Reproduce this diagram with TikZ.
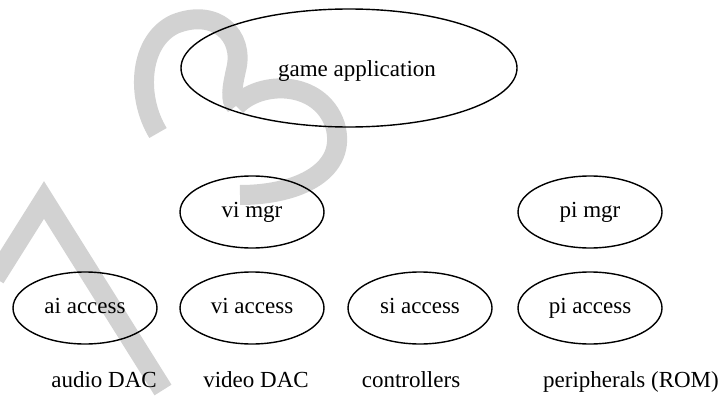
\documentclass[tikz,border=0pt]{standalone}
\usepackage{fontspec}
\setmainfont{Liberation Serif}
\usetikzlibrary{shapes.geometric}
\begin{document}
\begin{tikzpicture}[x=1pt,y=-1pt,
  oval/.style={draw,line width=1.4pt,ellipse,inner sep=0pt,minimum width=144pt,minimum height=72pt,text height=15pt,text depth=5pt},
  txt/.style={font=\fontsize{23}{27}\selectfont},
  lbl/.style={txt,anchor=base},
  wm/.style={draw=gray!35,line width=20pt,line cap=butt}]
\useasboundingbox (0,0) rectangle (723,396);
% watermark strokes
\draw[wm] (158,133) .. controls (135,95) and (140,40) .. (175,24)
  .. controls (215,8) and (245,35) .. (236,70) .. controls (232,88) and (230,100) .. (236,106);
\draw[wm] (236,106) .. controls (260,80) and (320,80) .. (335,125)
  .. controls (348,170) and (300,195) .. (240,195);
\draw[wm] (-5,278) -- (44,200) -- (163,390);
% nodes
\node[oval,minimum width=336pt,minimum height=118pt] (game) at (349,68) {};
\node[lbl] (gametxt) at (357,77) {game application};
\node[oval,txt] (vimgr) at (252,212) {vi mgr};
\node[oval,txt] (pimgr) at (590,212) {pi mgr};
\node[oval,txt] (ai) at (85,308) {ai access};
\node[oval,txt] (vi) at (252,308) {vi access};
\node[oval,txt] (si) at (420,308) {si access};
\node[oval,txt] (pi) at (590,308) {pi access};
\node[lbl] (l1) at (104,387) {audio DAC};
\node[lbl] (l2) at (256,387) {video DAC};
\node[lbl] (l3) at (411,387) {controllers};
\node[lbl] (l4) at (631,387) {peripherals (ROM)};
\end{tikzpicture}
\end{document}
